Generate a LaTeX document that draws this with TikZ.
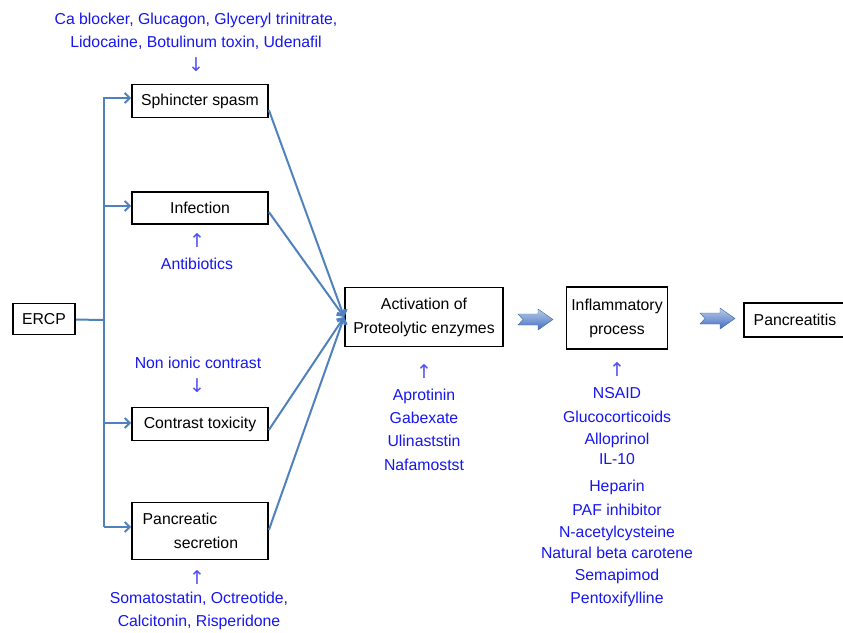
\documentclass[tikz,border=0pt]{standalone}
\usepackage{fontspec}
\setmainfont{Liberation Sans}
\newfontfamily\arrowfont{DejaVu Sans}
\usetikzlibrary{positioning, arrows.meta}
\definecolor{drugblue}{RGB}{22,22,238}
\definecolor{linkblue}{RGB}{79,129,189}

\begin{document}
\begin{tikzpicture}[x=1pt, y=-1pt,
  every node/.style = {font=\fontsize{15.8}{18}\selectfont, inner sep=0pt},
  box/.style = {draw, line width=1.7pt, align=center},
  drug/.style = {text=drugblue, align=center},
  mark arrow/.style = {text=drugblue!75, font=\arrowfont\fontsize{19}{21}\selectfont},
  link/.style = {draw=linkblue, line width=2pt},
  tip/.style = {-{Straight Barb[length=5pt, width=10pt]}},
  fat arrow/.style = {line width=0.4pt, draw=linkblue!80!black,
    top color=linkblue!40, bottom color=linkblue!85!blue}]
  \useasboundingbox (0,0) rectangle (843,632);

  % the steps
  \node[box, minimum width=62pt, minimum height=31pt] (ercp) at (44,319) {ERCP};
  \node[box, minimum width=136pt, minimum height=33pt] (spasm) at (200,101) {Sphincter spasm};
  \node[box, minimum width=136pt, minimum height=32pt] (infect) at (200,208) {Infection};
  \node[box, minimum width=136pt, minimum height=33pt] (contrast) at (200,424) {Contrast toxicity};
  \node[box, minimum width=136pt, minimum height=57pt] (secret) at (200,531) {};
  \node (secret1) at (180,519) {Pancreatic};
  \node (secret2) at (206,543) {secretion};
  \node[box, minimum width=158pt, minimum height=59pt] (act) at (424,317)
    {Activation of\\[6pt]Proteolytic enzymes};
  \node[box, minimum width=101pt, minimum height=62pt] (infl) at (617,318)
    {Inflammatory\\[6pt]process};
  \node[box, minimum width=102pt, minimum height=34pt] (panc) at (795,320) {Pancreatitis};

  % branches out of ERCP
  \coordinate (split) at (104,320);
  \draw[link] (ercp) -- (split);
  \draw[link] (104,98) -- (104,527);
  \draw[link, tip] (split) |- (104,98) -- (spasm.west |- 0,98);
  \draw[link, tip] (104,206) -- (infect.west |- 0,206);
  \draw[link, tip] (104,423) -- (contrast.west |- 0,423);
  \draw[link, tip] (104,527) -- (secret.west |- 0,527);

  % into the activation step
  \foreach \from/\y in {spasm/110, infect/212, contrast/430, secret/530}
    \draw[link, tip] (\from.east |- 0,\y) -- (act.west);

  % fat arrows
  \draw[fat arrow] (518,314) -- (538,314) -- (538,309) -- (553,319.5) -- (538,330)
    -- (538,325) -- (518,325) -- (523,319.5) -- cycle;
  \draw[fat arrow] (700,313) -- (720,313) -- (720,308) -- (735,318.5) -- (720,329)
    -- (720,324) -- (700,324) -- (705,318.5) -- cycle;

  % treatments
  \node[drug] (spasmdrug) at (196,31)
    {Ca blocker, Glucagon, Glyceryl trinitrate,\\[5pt]Lidocaine, Botulinum toxin, Udenafil};
  \node[mark arrow] (spasmmark) at (196,65) {↓};
  \node[mark arrow] (infectmark) at (197,241) {↑};
  \node[drug] (infectdrug) at (197,264) {Antibiotics};
  \node[drug] (contrastdrug) at (198,363) {Non ionic contrast};
  \node[mark arrow] (contrastmark) at (197,386) {↓};
  \node[mark arrow] (secretmark) at (197,578) {↑};
  \node[drug] (secretdrug) at (199,611)
    {Somatostatin, Octreotide,\\[5pt]Calcitonin, Risperidone};

  \node[mark arrow] (actmark) at (424,372) {↑};
  \foreach \y/\name in {396/Aprotinin, 418/Gabexate, 441/Ulinaststin, 465/Nafamostst}
    \node[drug] (act-\y) at (424,\y) {\name};

  \node[mark arrow] (inflmark) at (617,370) {↑};
  \foreach \y/\name in {393/NSAID, 417/Glucocorticoids, 440/Alloprinol, 459/IL-10,
      487/Heparin, 510/PAF inhibitor, 533/N-acetylcysteine,
      553/Natural beta carotene, 576/Semapimod, 599/Pentoxifylline}
    \node[drug] (infl-\y) at (617,\y) {\name};
\end{tikzpicture}
\end{document}
